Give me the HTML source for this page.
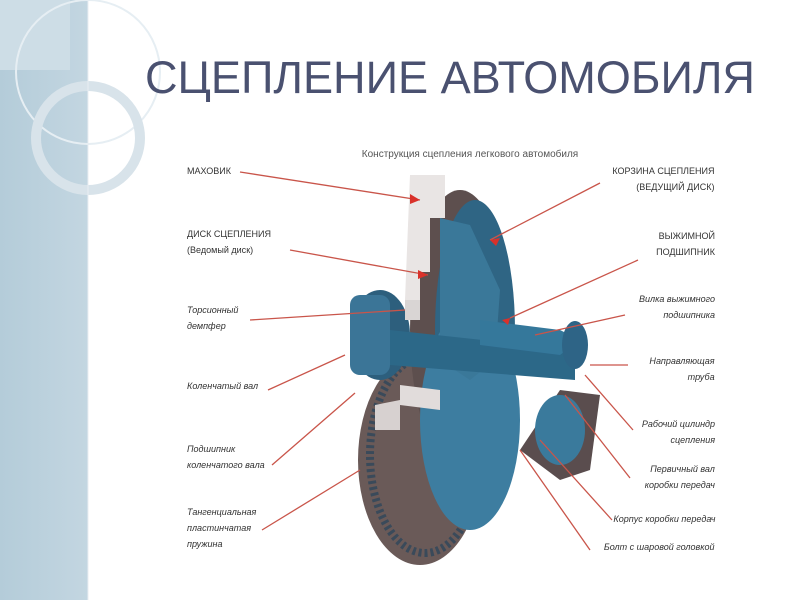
<!DOCTYPE html>
<html><head><meta charset="utf-8"><style>
body{margin:0;width:800px;height:600px;background:#fff;overflow:hidden;position:relative;font-family:"Liberation Sans","Noto Sans CJK SC",sans-serif}
.t{position:absolute;font-size:9.5px;color:#333;line-height:16px;font-style:italic;transform:scaleX(0.95);transform-origin:left}
.r{text-align:right;transform-origin:right}
</style></head><body>
<svg width="800" height="600" style="position:absolute;left:0;top:0">
<defs><linearGradient id="g" x1="0" x2="1"><stop offset="0" stop-color="#b4ccd9"/><stop offset="1" stop-color="#c3d6e1"/></linearGradient></defs>
<rect x="0" y="0" width="88" height="600" fill="url(#g)"/>
<rect x="0" y="0" width="70" height="70" fill="#cddde6"/>
<circle cx="88" cy="72" r="72" fill="none" stroke="#e6eef3" stroke-width="2"/>
<circle cx="88" cy="138" r="52" fill="none" stroke="#d8e3ea" stroke-width="10"/>
<line x1="88" y1="0" x2="88" y2="600" stroke="#e8eef2" stroke-width="1"/>
<text x="145" y="93" font-family="Liberation Sans,sans-serif" font-size="45" fill="#4a5170" textLength="610" lengthAdjust="spacingAndGlyphs">СЦЕПЛЕНИЕ АВТОМОБИЛЯ</text>
<text x="470" y="157" text-anchor="middle" font-family="Liberation Sans,sans-serif" font-size="10" fill="#555">Конструкция сцепления легкового автомобиля</text>
<ellipse cx="420" cy="460" rx="62" ry="105" fill="#6a5a58"/>
<ellipse cx="425" cy="455" rx="55" ry="98" fill="none" stroke="#3a4a5a" stroke-width="8" stroke-dasharray="3 3"/>
<ellipse cx="460" cy="330" rx="50" ry="140" fill="#5d4f4e"/>
<ellipse cx="475" cy="330" rx="40" ry="130" fill="#2f6584"/>
<ellipse cx="470" cy="420" rx="50" ry="110" fill="#3d7da0"/>
<ellipse cx="380" cy="335" rx="30" ry="45" fill="#2d5f7d"/>
<rect x="350" y="295" width="40" height="80" rx="10" fill="#3b7597"/>
<path d="M410 175 L445 175 L445 218 L430 218 L430 272 L420 272 L420 300 L405 300 Z" fill="#e9e5e4"/>
<path d="M405 300 L420 300 L420 320 L405 320 Z" fill="#d9d5d4"/>
<path d="M440 218 L470 225 L500 290 L495 360 L470 380 L440 360 Z" fill="#3a7899"/>
<path d="M390 330 L575 350 L575 380 L390 365 Z" fill="#2c6888"/>
<path d="M480 320 L560 330 L580 340 L560 355 L480 345 Z" fill="#35789b"/>
<ellipse cx="575" cy="345" rx="13" ry="24" fill="#2e6486"/>
<path d="M560 390 L600 395 L590 470 L560 480 L520 450 Z" fill="#5a4d4e"/>
<ellipse cx="560" cy="430" rx="25" ry="35" fill="#3a7a9c"/>
<path d="M400 385 L440 390 L440 410 L400 405 Z" fill="#e1dcdb"/>
<path d="M375 405 L400 400 L400 430 L375 430 Z" fill="#d7d1d0"/>
<g stroke="#c9554a" stroke-width="1.3" fill="none">
<line x1="240" y1="172" x2="420" y2="200"/>
<line x1="290" y1="250" x2="428" y2="275"/>
<line x1="250" y1="320" x2="405" y2="310"/>
<line x1="268" y1="390" x2="345" y2="355"/>
<line x1="272" y1="465" x2="355" y2="393"/>
<line x1="262" y1="530" x2="360" y2="470"/>
<line x1="600" y1="183" x2="490" y2="240"/>
<line x1="638" y1="260" x2="510" y2="318"/>
<line x1="625" y1="315" x2="535" y2="335"/>
<line x1="628" y1="365" x2="590" y2="365"/>
<line x1="633" y1="430" x2="585" y2="375"/>
<line x1="630" y1="478" x2="565" y2="395"/>
<line x1="612" y1="520" x2="540" y2="440"/>
<line x1="590" y1="550" x2="520" y2="450"/>
</g>
<g fill="#d9312a"><path d="M420 200 l-10 -6 l0 10z"/><path d="M490 240 l10 -2 l-4 8z"/><path d="M428 275 l-10 -5 l0 9z"/><path d="M510 318 l-8 2 l6 5z"/></g>
</svg>
<div class="t" style="left:187px;top:164px;font-style:normal">МАХОВИК</div>
<div class="t" style="left:187px;top:227px;font-style:normal">ДИСК СЦЕПЛЕНИЯ<br>(Ведомый диск)</div>
<div class="t" style="left:187px;top:303px">Торсионный<br>демпфер</div>
<div class="t" style="left:187px;top:379px">Коленчатый вал</div>
<div class="t" style="left:187px;top:442px">Подшипник<br>коленчатого вала</div>
<div class="t" style="left:187px;top:505px">Тангенциальная<br>пластинчатая<br>пружина</div>
<div class="t r" style="right:85px;top:164px;font-style:normal">КОРЗИНА СЦЕПЛЕНИЯ<br>(ВЕДУЩИЙ ДИСК)</div>
<div class="t r" style="right:85px;top:229px;font-style:normal">ВЫЖИМНОЙ<br>ПОДШИПНИК</div>
<div class="t r" style="right:85px;top:292px">Вилка выжимного<br>подшипника</div>
<div class="t r" style="right:85px;top:354px">Направляющая<br>труба</div>
<div class="t r" style="right:85px;top:417px">Рабочий цилиндр<br>сцепления</div>
<div class="t r" style="right:85px;top:462px">Первичный вал<br>коробки передач</div>
<div class="t r" style="right:85px;top:512px">Корпус коробки передач</div>
<div class="t r" style="right:85px;top:540px">Болт с шаровой головкой</div>
</body></html>
